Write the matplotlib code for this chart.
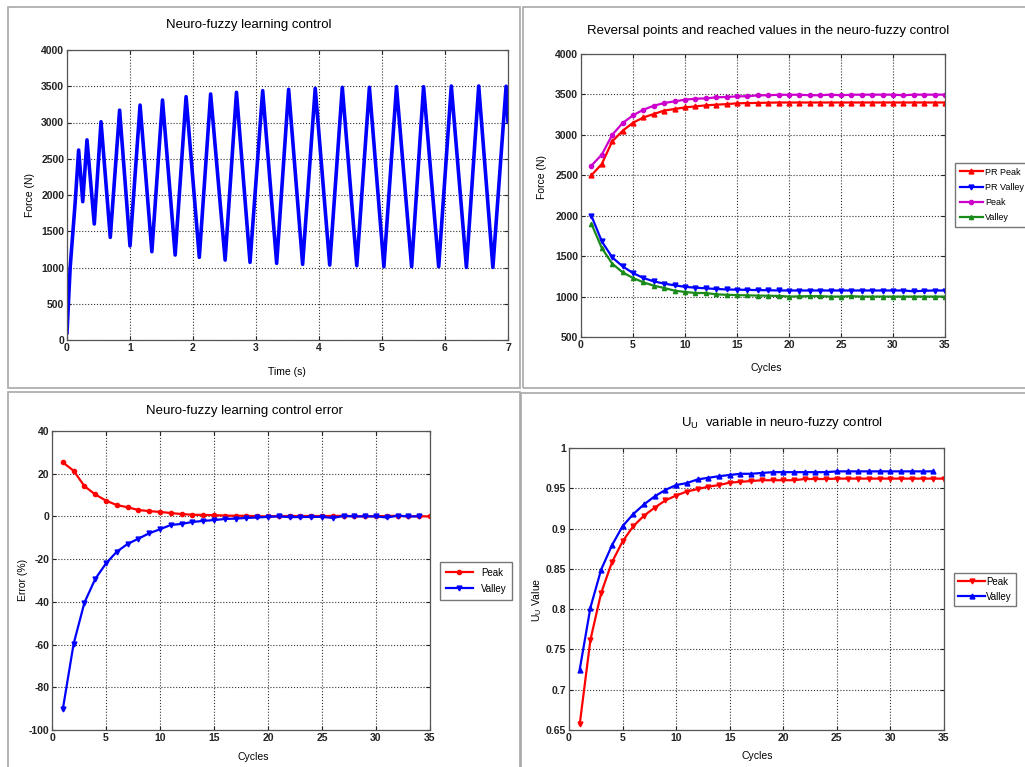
import numpy as np
import matplotlib
matplotlib.use("Agg")
import matplotlib.pyplot as plt
from matplotlib.patches import Rectangle
from matplotlib.ticker import FormatStrFormatter

plt.rcParams['font.family'] = ['Liberation Sans', 'DejaVu Sans']
plt.rcParams['axes.unicode_minus'] = False

W, H = 1025, 767

# --- panel 1: force over time (turning points of the response) ---
time_s = [0.0, 0.05, 0.13, 0.185, 0.25, 0.317, 0.433, 0.54, 0.687, 0.835, 1.0, 1.16,
          1.347, 1.516, 1.717, 1.89, 2.10, 2.28, 2.51, 2.69, 2.905, 3.106, 3.328,
          3.518, 3.74, 3.94, 4.17, 4.37, 4.60, 4.80, 5.03, 5.23, 5.47, 5.66, 5.90,
          6.10, 6.34, 6.535, 6.76, 6.97, 7.0]
force_n = [100, 1000, 1900, 2620, 1908, 2760, 1600, 3010, 1416, 3170, 1297, 3240,
           1218, 3310, 1172, 3356, 1140, 3393, 1103, 3416, 1071, 3439, 1057,
           3457, 1044, 3471, 1034, 3485, 1025, 3485, 1011, 3494, 1011, 3494, 1011,
           3503, 1002, 3503, 1002, 3500, 3010]

# --- panel 2: reversal points and reached values ---
cycles35 = np.arange(1, 36)
cycles34 = np.arange(1, 35)
pr_peak = [2500, 2640, 2920, 3050, 3150, 3215, 3258, 3300, 3320, 3340, 3352, 3365,
           3373, 3380, 3390, 3393, 3395, 3398, 3400, 3400, 3400, 3400, 3400, 3400,
           3400, 3400, 3400, 3400, 3400, 3400, 3400, 3400, 3400, 3400, 3400]
pr_valley = [2000, 1683, 1485, 1374, 1291, 1230, 1188, 1160, 1139, 1120, 1110, 1102,
             1094, 1088, 1085, 1083, 1080, 1078, 1076, 1075, 1075, 1075, 1075, 1075,
             1075, 1075, 1075, 1075, 1075, 1075, 1075, 1065, 1072, 1075, 1075]
peak = [2620, 2755, 3000, 3146, 3241, 3311, 3360, 3394, 3414, 3435, 3447, 3451,
        3464, 3468, 3476, 3478, 3488, 3490, 3495, 3496, 3496, 3490, 3490, 3497,
        3490, 3496, 3497, 3497, 3497, 3497, 3490, 3497, 3497, 3497, 3497]
valley = [1900, 1600, 1407, 1300, 1230, 1176, 1135, 1106, 1073, 1057, 1044, 1044,
          1028, 1022, 1018, 1015, 1012, 1010, 1008, 1000, 1003, 1005, 1005, 1000,
          1000, 1005, 1000, 1000, 1000, 1000, 1000, 1000, 1000, 1000, 1000]

# --- panel 3: control error (%) ---
err_peak = [25.3, 21.4, 14.2, 10.3, 7.4, 5.3, 4.3, 3.0, 2.5, 2.1, 1.6, 1.1, 0.8,
            0.7, 0.6, 0.4, 0.3, 0.3, 0.1, 0.0, 0.2, 0.2, 0.2, 0.2, 0.2, 0.2, 0.3,
            0.1, 0.1, 0.1, 0.2, 0.3, 0.1, 0.1, 0.0]
err_valley = [-90.3, -59.7, -40.4, -29.3, -22.0, -16.5, -12.9, -10.4, -7.9, -6.0,
              -4.0, -3.5, -2.6, -2.1, -1.7, -1.2, -1.0, -0.7, -0.5, -0.2, 0.0,
              -0.3, -0.3, -0.2, -0.2, -0.7, 0.2, 0.0, 0.0, 0.0, -0.5, 0.3, 0.0, 0.0]

# --- panel 4: U_U variable ---
uu_peak = [0.657, 0.762, 0.820, 0.858, 0.884, 0.903, 0.916, 0.926, 0.935, 0.941,
           0.946, 0.949, 0.952, 0.954, 0.957, 0.958, 0.959, 0.960, 0.960, 0.960,
           0.960, 0.9615, 0.9615, 0.9615, 0.962, 0.962, 0.962, 0.962, 0.962, 0.962,
           0.962, 0.962, 0.962, 0.962, 0.962]
uu_valley = [0.725, 0.802, 0.849, 0.879, 0.903, 0.918, 0.930, 0.940, 0.948, 0.954,
             0.9565, 0.961, 0.963, 0.965, 0.9665, 0.968, 0.968, 0.969, 0.970, 0.970,
             0.970, 0.970, 0.970, 0.970, 0.971, 0.971, 0.971, 0.971, 0.971, 0.971,
             0.971, 0.971, 0.971, 0.971]

fig = plt.figure(figsize=(W / 100, H / 100), dpi=100)
fig.patch.set_facecolor('white')


def px_box(x0, y0, x1, y1):
    return [x0 / W, 1 - y1 / H, (x1 - x0) / W, (y1 - y0) / H]


def fx(x):
    return x / W


def fy(y):
    return 1 - y / H


# panel frames
for (x0, y0, x1, y1) in [(8, 7, 520, 388), (523, 7, 1030, 388),
                         (8, 392, 520, 772), (521, 393, 1030, 772)]:
    fig.patches.append(Rectangle((fx(x0), fy(y1)), fx(x1 - x0), (y1 - y0) / H,
                                 transform=fig.transFigure, fill=False,
                                 edgecolor='#a8a8a8', lw=1.2))


def style(ax, xlim, ylim, xt, yt):
    ax.set_xlim(*xlim)
    ax.set_ylim(*ylim)
    ax.set_xticks(xt)
    ax.set_yticks(yt)
    ax.grid(True, linestyle=':', color='#333333', lw=0.8)
    ax.tick_params(direction='in', length=3, labelsize=7.5, pad=2,
                   top=True, right=True, colors='#222222')
    for lab in ax.get_xticklabels() + ax.get_yticklabels():
        lab.set_fontweight('bold')
    for s in ax.spines.values():
        s.set_color('#555555')
        s.set_linewidth(0.9)


# panel 1
ax1 = fig.add_axes(px_box(67, 50, 508, 340))
ax1.plot(time_s, force_n, color='#0000ff', lw=2.6)
style(ax1, (0, 7), (0, 4000), range(0, 8), range(0, 4001, 500))
fig.text(fx(249), fy(25), 'Neuro-fuzzy learning control', ha='center', va='center', fontsize=9.5)
fig.text(fx(287), fy(372), 'Time (s)', ha='center', va='center', fontsize=7.5)
fig.text(fx(30), fy(195), 'Force (N)', ha='center', va='center', fontsize=7.5, rotation=90)

# panel 2
ax2 = fig.add_axes(px_box(581, 54, 945, 337))
ax2.plot(cycles35, pr_peak, color='#ff0000', lw=1.6, marker='^', ms=3.5, label='PR Peak')
ax2.plot(cycles35, pr_valley, color='#0000ff', lw=1.6, marker='v', ms=3.5, label='PR Valley')
ax2.plot(cycles35, peak, color='#cc00cc', lw=1.6, marker='o', ms=3, label='Peak')
ax2.plot(cycles35, valley, color='#1a8a1a', lw=1.6, marker='^', ms=3, label='Valley')
style(ax2, (0, 35), (500, 4000), range(0, 36, 5), range(500, 4001, 500))
fig.text(fx(768), fy(31), 'Reversal points and reached values in the neuro-fuzzy control',
         ha='center', va='center', fontsize=9.5)
fig.text(fx(766), fy(368), 'Cycles', ha='center', va='center', fontsize=7.5)
fig.text(fx(542), fy(177), 'Force (N)', ha='center', va='center', fontsize=7.5, rotation=90)
ax2.legend(loc='upper left', bbox_to_anchor=(fx(955), fy(163)),
           bbox_transform=fig.transFigure, fontsize=6.5, handlelength=2.6,
           handletextpad=0.2, labelspacing=0.7, borderpad=0.5, borderaxespad=0,
           fancybox=False, edgecolor='#777777', framealpha=1)

# panel 3
ax3 = fig.add_axes(px_box(52, 431, 430, 730))
ax3.plot(cycles35, err_peak, color='#ff0000', lw=1.6, marker='o', ms=3, label='Peak')
ax3.plot(cycles34, err_valley, color='#0000ff', lw=1.6, marker='v', ms=3.5, label='Valley')
style(ax3, (0, 35), (-100, 40), range(0, 36, 5), range(-100, 41, 20))
fig.text(fx(244), fy(411), 'Neuro-fuzzy learning control error', ha='center', va='center', fontsize=9.5)
fig.text(fx(253), fy(757), 'Cycles', ha='center', va='center', fontsize=7.5)
fig.text(fx(23), fy(580), 'Error (%)', ha='center', va='center', fontsize=7.5, rotation=90)
ax3.legend(loc='upper left', bbox_to_anchor=(fx(440), fy(562)),
           bbox_transform=fig.transFigure, fontsize=7, handlelength=2.8,
           handletextpad=0.8, labelspacing=0.6, borderpad=0.6, borderaxespad=0,
           fancybox=False, edgecolor='#777777', framealpha=1)

# panel 4
ax4 = fig.add_axes(px_box(569, 448, 944, 730))
ax4.plot(cycles35, uu_peak, color='#ff0000', lw=1.6, marker='v', ms=3.5, label='Peak')
ax4.plot(cycles34, uu_valley, color='#0000ff', lw=1.6, marker='^', ms=3.5, label='Valley')
style(ax4, (0, 35), (0.65, 1.0), range(0, 36, 5), np.arange(0.65, 1.001, 0.05))
ax4.yaxis.set_major_formatter(FormatStrFormatter('%g'))
for lab in ax4.get_yticklabels():
    lab.set_fontweight('bold')
fig.text(fx(782), fy(423), r'U$_{\mathregular{U}}$  variable in neuro-fuzzy control',
         ha='center', va='center', fontsize=9.5)
fig.text(fx(757), fy(756), 'Cycles', ha='center', va='center', fontsize=7.5)
fig.text(fx(537), fy(600), r'U$_{\mathregular{U}}$ Value', ha='center', va='center',
         fontsize=7.5, rotation=90)
ax4.legend(loc='upper left', bbox_to_anchor=(fx(954), fy(573)),
           bbox_transform=fig.transFigure, fontsize=7, handlelength=2.8,
           handletextpad=0.1, labelspacing=0.5, borderpad=0.4, borderaxespad=0,
           fancybox=False, edgecolor='#777777', framealpha=1)

fig.savefig('out.png', dpi=100)
